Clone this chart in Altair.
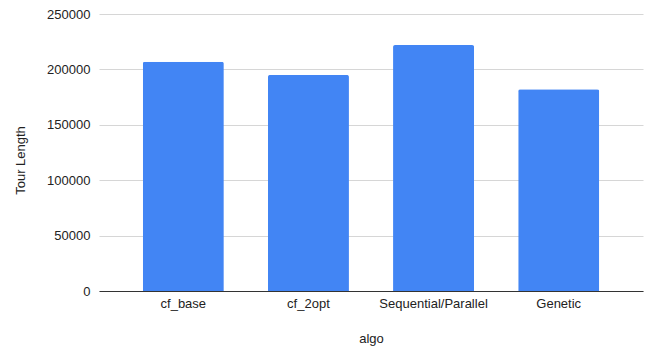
import altair as alt
import pandas as pd

# Tour length reached by each algorithm
algos = ["cf_base", "cf_2opt", "Sequential/Parallel", "Genetic"]
tour_lengths = [207000, 195000, 222000, 182000]

df = pd.DataFrame({"algo": algos, "Tour Length": tour_lengths})

FONT = "Liberation Sans"

chart = (
    alt.Chart(df)
    .mark_bar(color="#4285F4", cornerRadiusTopLeft=2, cornerRadiusTopRight=2)
    .encode(
        x=alt.X(
            "algo:N",
            sort=algos,
            scale=alt.Scale(paddingInner=0.3525, paddingOuter=0.35),
            axis=alt.Axis(
                title="algo",
                labelAngle=0,
                ticks=False,
                domainColor="#333333",
                domainWidth=1,
                labelPadding=6,
                labelFontSize=13,
                labelColor="#222222",
                titleFontSize=13,
                titleFontWeight="normal",
                titleColor="#222222",
                titleBaseline="middle",
                titleY=47,
                grid=False,
            ),
        ),
        y=alt.Y(
            "Tour Length:Q",
            scale=alt.Scale(domain=[0, 250000], nice=False),
            axis=alt.Axis(
                title="Tour Length",
                values=[0, 50000, 100000, 150000, 200000, 250000],
                format="d",
                domain=False,
                ticks=False,
                gridColor="#d6d6d6",
                gridWidth=1,
                labelPadding=9,
                labelFontSize=13,
                labelColor="#222222",
                titleFontSize=13,
                titleFontWeight="normal",
                titleColor="#222222",
                titleAngle=-90,
                titleBaseline="middle",
                titleAlign="center",
                titleX=-79,
                titleY=146,
            ),
        ),
    )
    .properties(
        width=544,
        height=277,
        autosize=alt.AutoSizeParams(type="none"),
        padding={"left": 99, "top": 14, "right": 3, "bottom": 58},
    )
    .configure(font=FONT)
    .configure_view(stroke=None)
)

chart.save("out.html", embed_options={"renderer": "svg", "actions": False})
